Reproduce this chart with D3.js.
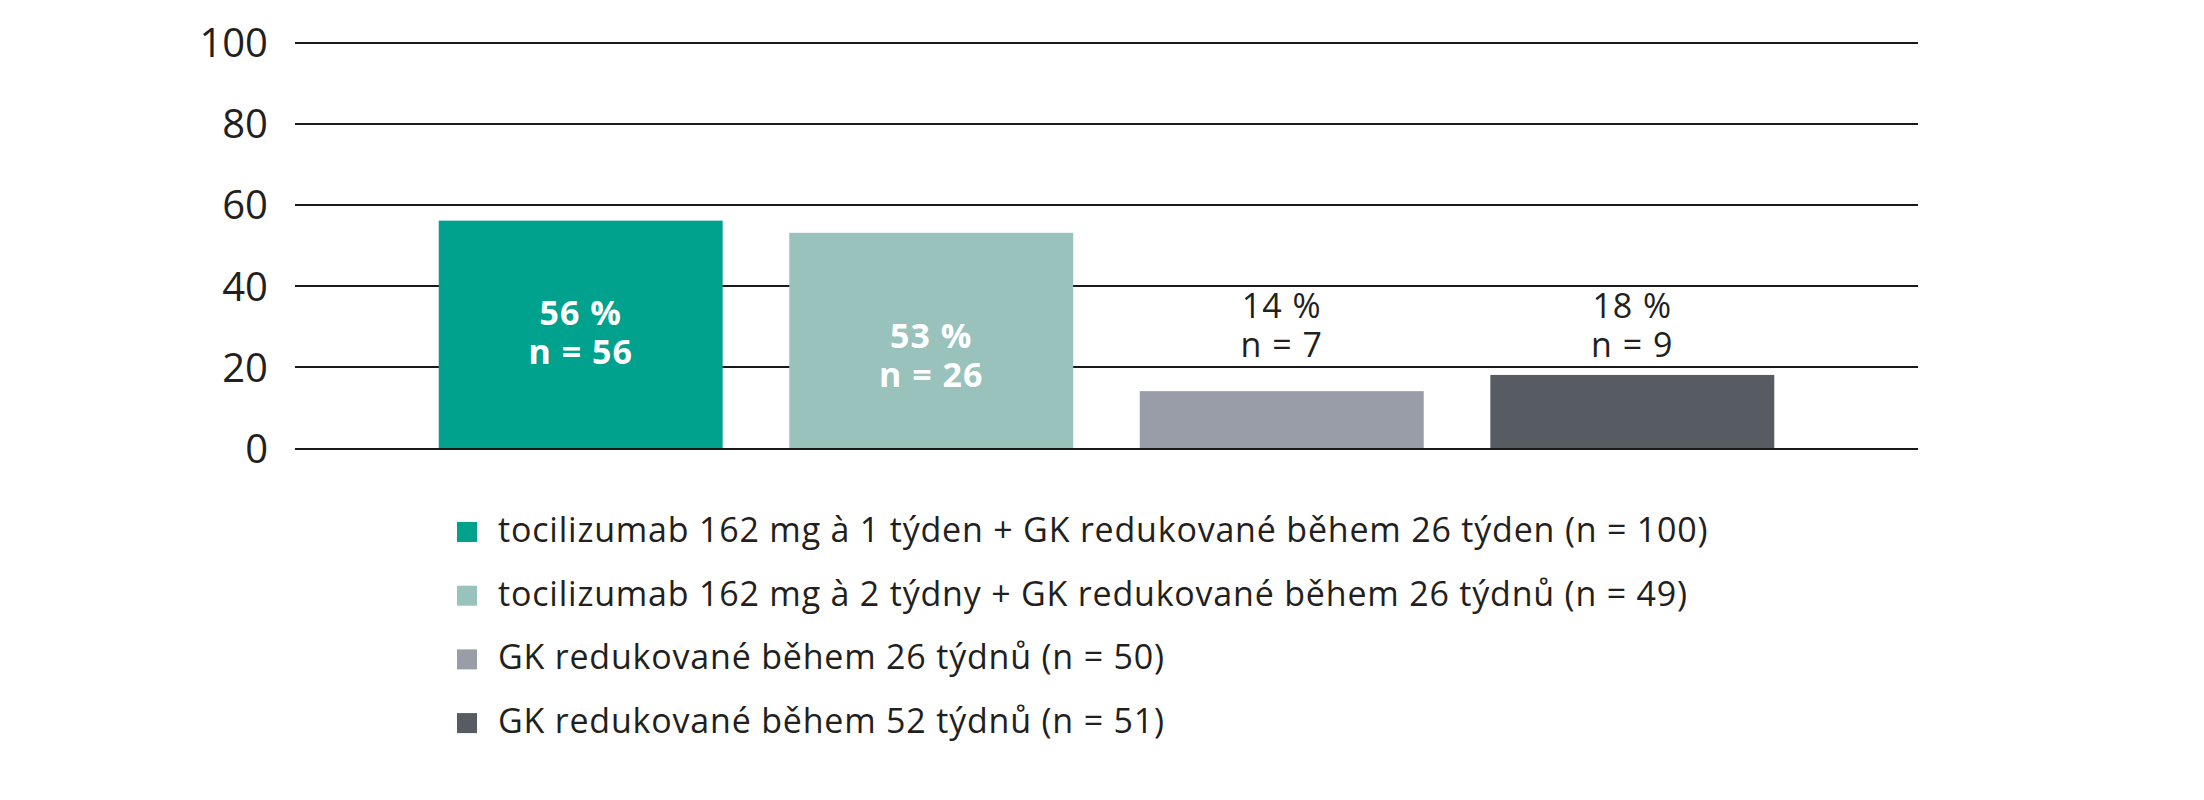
<!DOCTYPE html>
<meta charset="utf-8">
<head>
<style>
  body { margin: 0; background: #fff; }
  .tick text { font: 40px "Open Sans", sans-serif; fill: #231f20; }
  .grid line { stroke: #1a1a1a; stroke-width: 2px; shape-rendering: crispEdges; }
  .lbl { font-family: "Open Sans", sans-serif; font-size: 34px; letter-spacing: 1px; text-anchor: middle; }
  .legend text { font: 34px "Open Sans", sans-serif; letter-spacing: 0.8px; fill: #231f20; }
</style>
</head>
<body>
<script src="https://cdn.jsdelivr.net/npm/d3@7"></script>
<script>
// data
var groups = [
  "tocilizumab 162 mg à 1 týden + GK redukované během 26 týden (n = 100)",
  "tocilizumab 162 mg à 2 týdny + GK redukované během 26 týdnů (n = 49)",
  "GK redukované během 26 týdnů (n = 50)",
  "GK redukované během 52 týdnů (n = 51)"
];
var percents = [56, 53, 14, 18];
var counts = [56, 26, 7, 9];
var yTicks = [0, 20, 40, 60, 80, 100];

// styling / layout
var colors = ["#00a28e", "#98c2bb", "#989da7", "#575b62"];
var labelInside = [true, true, false, false];
var labelBase = [30.3, 24.6, 32.0, 32.0]; // baseline of first label line, in y units

var W = 2204, H = 800;

var svg = d3.select("body").append("svg")
    .attr("width", W)
    .attr("height", H);

var x = d3.scaleBand()
    .domain(d3.range(percents.length))
    .range([295, 1918])
    .paddingInner(0.19)
    .paddingOuter(0.41);

var y = d3.scaleLinear()
    .domain([0, 100])
    .range([448, 42]);

// gridlines + tick labels
var yAxis = d3.axisLeft(y)
    .tickValues(yTicks)
    .tickSize(-(1918 - 295))
    .tickPadding(27);

svg.append("g")
    .attr("class", "grid")
    .attr("transform", "translate(295,0)")
    .call(yAxis)
    .call(function(g) { g.select(".domain").remove(); })
    .selectAll(".tick text")
    .attr("dy", "0.36em");

// bars
svg.selectAll(".bar")
    .data(percents)
  .enter().append("rect")
    .attr("class", "bar")
    .attr("x", function(d, i) { return x(i); })
    .attr("width", x.bandwidth())
    .attr("y", function(d) { return y(d); })
    .attr("height", function(d) { return y(0) - y(d); })
    .attr("fill", function(d, i) { return colors[i]; });

// value labels
var lbl = svg.selectAll(".lbl")
    .data(percents)
  .enter().append("text")
    .attr("class", "lbl")
    .attr("x", function(d, i) { return x(i) + x.bandwidth() / 2; })
    .attr("y", function(d, i) { return y(labelBase[i]); })
    .attr("fill", function(d, i) { return labelInside[i] ? "#ffffff" : "#231f20"; })
    .attr("font-weight", function(d, i) { return labelInside[i] ? "bold" : "normal"; });

lbl.append("tspan")
    .text(function(d) { return d + " %"; });
lbl.append("tspan")
    .attr("x", function(d, i) { return x(i) + x.bandwidth() / 2; })
    .attr("dy", 39)
    .text(function(d, i) { return "n = " + counts[i]; });

// legend
var leg = svg.append("g")
    .attr("class", "legend")
    .selectAll("g")
    .data(groups)
  .enter().append("g")
    .attr("transform", function(d, i) { return "translate(457," + (542 + i * 63.7) + ")"; });

leg.append("rect")
    .attr("y", -20)
    .attr("width", 20)
    .attr("height", 20)
    .attr("fill", function(d, i) { return colors[i]; });

leg.append("text")
    .attr("x", 41)
    .text(function(d) { return d; });
</script>
</body>
